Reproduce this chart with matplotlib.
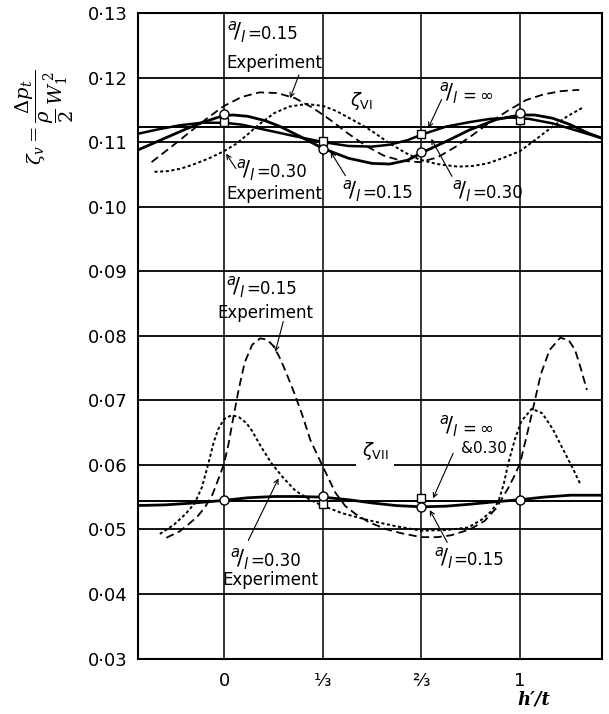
import matplotlib.pyplot as plt

# axis ticks
x_ticks = [0, 1/3, 2/3, 1]
x_ticklabels = ['0', '⅓', '⅔', '1']
y_ticks = [0.03, 0.04, 0.05, 0.06, 0.07, 0.08, 0.09, 0.10, 0.11, 0.12, 0.13]
y_ticklabels = ['0·03', '0·04', '0·05', '0·06', '0·07', '0·08', '0·09',
                '0·10', '0·11', '0·12', '0·13']

# ---- zeta_VI (upper group) ----
vi_mean = 0.1124
# a/l = 0.15 experiment (long dashes)
vi_exp15_x = [-0.245, -0.18, -0.12, -0.06, 0.0, 0.06, 0.12, 0.18, 0.24, 0.30, 0.36, 0.42, 0.48,
              0.54, 0.60, 0.66, 0.72, 0.78, 0.84, 0.90, 0.96, 1.02, 1.08, 1.14, 1.20]
vi_exp15_y = [0.1069, 0.1092, 0.1114, 0.1136, 0.1156, 0.1170, 0.1177, 0.1176, 0.1168, 0.1153,
              0.1134, 0.1113, 0.1094, 0.1079, 0.1071, 0.1069, 0.1076, 0.1092, 0.1111, 0.1131,
              0.1149, 0.1165, 0.1174, 0.1179, 0.1181]
# a/l = 0.30 experiment (dots)
vi_exp30_x = [-0.235, -0.19, -0.145, -0.10, -0.05, 0.0, 0.04, 0.08, 0.12, 0.17, 0.22, 0.28, 0.335,
              0.38, 0.42, 0.46, 0.50, 0.55, 0.61, 0.66, 0.72, 0.79, 0.84, 0.89, 0.94, 1.0, 1.05,
              1.11, 1.16, 1.21]
vi_exp30_y = [0.1054, 0.1055, 0.1059, 0.1066, 0.1075, 0.1086, 0.1097, 0.1112, 0.1128, 0.1145,
              0.1155, 0.1159, 0.1156, 0.1148, 0.1138, 0.1128, 0.1117, 0.1101, 0.1084, 0.1073,
              0.1066, 0.1062, 0.1063, 0.1067, 0.1075, 0.1086, 0.1103, 0.1124, 0.1140, 0.1153]
# a/l = 0.15 theory
vi_th15_x = [-0.29, -0.24, -0.19, -0.13, -0.075, -0.03, 0.0, 0.03, 0.08, 0.14, 0.19, 0.26, 0.335,
             0.42, 0.50, 0.56, 0.62, 0.67, 0.75, 0.83, 0.92, 1.0, 1.05, 1.11, 1.17, 1.23, 1.277]
vi_th15_y = [0.1088, 0.1098, 0.1108, 0.1120, 0.1130, 0.1137, 0.1141, 0.1142, 0.1140, 0.1133,
             0.1124, 0.1108, 0.1090, 0.1075, 0.1067, 0.1066, 0.1072, 0.1084, 0.1101, 0.1119,
             0.1135, 0.1142, 0.1142, 0.1137, 0.1127, 0.1114, 0.1106]
# a/l = 0.30 theory
vi_th30_x = [-0.29, -0.22, -0.15, -0.075, 0.0, 0.06, 0.14, 0.23, 0.335, 0.42, 0.50, 0.56, 0.62,
             0.67, 0.75, 0.83, 0.90, 0.97, 1.03, 1.11, 1.19, 1.277]
vi_th30_y = [0.1113, 0.1120, 0.1126, 0.1130, 0.1130, 0.1127, 0.1119, 0.1110, 0.1100, 0.1094,
             0.1093, 0.1096, 0.1103, 0.1112, 0.1124, 0.1131, 0.1136, 0.1138, 0.1136, 0.1129,
             0.1118, 0.1106]
vi_circle_y = [0.1143, 0.1089, 0.1085, 0.1145]
vi_square_y = [0.1131, 0.1101, 0.1112, 0.1135]

# ---- zeta_VII (lower group) ----
vii_mean = 0.0544
vii_exp15_x = [-0.195, -0.15, -0.12, -0.09, -0.065, -0.04, -0.025, -0.01, 0.0, 0.015, 0.03, 0.05,
               0.07, 0.095, 0.122, 0.145, 0.165, 0.185, 0.207, 0.235, 0.263, 0.292, 0.331, 0.376,
               0.41, 0.444, 0.49, 0.55, 0.60, 0.666, 0.72, 0.768, 0.83, 0.88, 0.92, 0.96, 0.98,
               1.0, 1.02, 1.04, 1.07, 1.10, 1.136, 1.165, 1.186, 1.205, 1.226]
vii_exp15_y = [0.0487, 0.0497, 0.0508, 0.0520, 0.0534, 0.0553, 0.0571, 0.0589, 0.0602, 0.0632,
               0.0670, 0.0718, 0.0759, 0.0786, 0.0796, 0.0794, 0.0785, 0.0769, 0.0746, 0.0714,
               0.0679, 0.0638, 0.0600, 0.0557, 0.0536, 0.0524, 0.0511, 0.0500, 0.0494, 0.0488,
               0.0488, 0.0491, 0.0500, 0.0513, 0.0533, 0.0564, 0.0582, 0.0602, 0.0640, 0.0679,
               0.0740, 0.0778, 0.0797, 0.0793, 0.0778, 0.0750, 0.0716]
vii_exp30_x = [-0.217, -0.17, -0.13, -0.10, -0.075, -0.053, -0.035, -0.02, 0.0, 0.026, 0.05,
               0.075, 0.094, 0.125, 0.161, 0.20, 0.241, 0.29, 0.331, 0.40, 0.49, 0.58, 0.666,
               0.75, 0.825, 0.87, 0.90, 0.926, 0.945, 0.96, 0.983, 1.005, 1.04, 1.075, 1.11,
               1.15, 1.18, 1.203]
vii_exp30_y = [0.0493, 0.0507, 0.0524, 0.0540, 0.0565, 0.0602, 0.0635, 0.0655, 0.0671, 0.0677,
               0.0674, 0.0665, 0.0653, 0.0628, 0.0602, 0.0580, 0.0560, 0.0546, 0.0537, 0.0525,
               0.0514, 0.0505, 0.0498, 0.0499, 0.0503, 0.0515, 0.0527, 0.0542, 0.0570, 0.0602,
               0.0640, 0.0668, 0.0687, 0.0680, 0.0656, 0.0620, 0.0593, 0.0571]
vii_th_x = [-0.292, -0.2, -0.1, 0.0, 0.08, 0.17, 0.25, 0.333, 0.42, 0.5, 0.58, 0.667, 0.75,
            0.83, 0.92, 1.0, 1.08, 1.17, 1.277]
vii_th_y = [0.0537, 0.0538, 0.0541, 0.0545, 0.0549, 0.0551, 0.0551, 0.0550, 0.0546, 0.0541,
            0.0537, 0.0535, 0.0536, 0.0539, 0.0543, 0.0546, 0.0550, 0.0553, 0.0553]
vii_circle_y = [0.0545, 0.0551, 0.0534, 0.0546]
vii_square_x = [1/3, 2/3]
vii_square_y = [0.0540, 0.0548]

fig = plt.figure(figsize=(6.09, 7.14), dpi=100)
ax = fig.add_axes([0.226, 0.0777, 0.7625, 0.9041])
ax.set_xlim(-0.292, 1.277)
ax.set_ylim(0.03, 0.13)

# grid lines (0.06 line is broken behind the zeta_VII label)
for yv in y_ticks:
    if abs(yv - 0.06) < 1e-9:
        ax.hlines(yv, -0.292, 0.445, color='black', lw=1.3, zorder=1)
        ax.hlines(yv, 0.575, 1.277, color='black', lw=1.3, zorder=1)
    else:
        ax.axhline(yv, color='black', lw=1.3, zorder=1)
for xv in x_ticks:
    ax.axvline(xv, color='black', lw=1.1, zorder=1)

ax.axhline(vi_mean, color='black', lw=1.4, zorder=2)
ax.axhline(vii_mean, color='black', lw=1.4, zorder=2)

long_dash = (4.5, 2.5)
short_dot = (1.6, 1.3)

ax.plot(vi_exp15_x, vi_exp15_y, color='black', lw=1.3, dashes=long_dash, zorder=3)
ax.plot(vi_exp30_x, vi_exp30_y, color='black', lw=1.4, dashes=short_dot, zorder=3)
ax.plot(vi_th15_x, vi_th15_y, color='black', lw=2.0, zorder=3)
ax.plot(vi_th30_x, vi_th30_y, color='black', lw=1.8, zorder=3)
ax.plot(x_ticks, vi_circle_y, 'o', ms=6.5, mfc='white', mec='black', mew=1.0, zorder=5)
ax.plot(x_ticks, vi_square_y, 's', ms=6, mfc='white', mec='black', mew=1.0, zorder=4)

ax.plot(vii_exp15_x, vii_exp15_y, color='black', lw=1.3, dashes=long_dash, zorder=3)
ax.plot(vii_exp30_x, vii_exp30_y, color='black', lw=1.4, dashes=short_dot, zorder=3)
ax.plot(vii_th_x, vii_th_y, color='black', lw=2.0, zorder=3)
ax.plot(x_ticks, vii_circle_y, 'o', ms=6.5, mfc='white', mec='black', mew=1.0, zorder=5)
ax.plot(vii_square_x, vii_square_y, 's', ms=6, mfc='white', mec='black', mew=1.0, zorder=4)

ax.set_xticks(x_ticks)
ax.set_xticklabels(x_ticklabels, fontsize=13)
ax.set_yticks(y_ticks)
ax.set_yticklabels(y_ticklabels, fontsize=13)
ax.tick_params(length=0)
ax.tick_params(axis='x', pad=10)
ax.tick_params(axis='y', pad=7)
for s in ax.spines.values():
    s.set_linewidth(1.5)

fs = 12
arrow = dict(arrowstyle='->', lw=0.8, color='black', shrinkA=0, shrinkB=0,
             mutation_scale=8)


def al_label(x, y, rest, rest_size=fs):
    # the a/l ratio glyph is drawn larger than the value that follows it
    ax.annotate(r'${}^{a}\!/{}_{l}$', (x, y), fontsize=15, va='center')
    ax.annotate(rest, (x, y), xytext=(14.5, -1.5), textcoords='offset points',
                fontsize=rest_size, va='center')


# upper labels
al_label(0.01, 0.1271, '=0.15')
ax.text(0.007, 0.1223, 'Experiment', fontsize=fs, va='center')
ax.annotate('', xy=(0.223, 0.1168), xytext=(0.253, 0.1204), arrowprops=arrow)
ax.text(0.426, 0.1164, r'$\zeta_{\mathrm{VI}}$', fontsize=fs + 1, va='center')
al_label(0.726, 0.1176, r'$=\infty$')
ax.annotate('', xy=(0.69, 0.1122), xytext=(0.735, 0.1166), arrowprops=arrow)
al_label(0.04, 0.1057, '=0.30')
ax.text(0.007, 0.1020, 'Experiment', fontsize=fs, va='center')
ax.annotate('', xy=(0.007, 0.1082), xytext=(0.04, 0.1059), arrowprops=arrow)
al_label(0.40, 0.1024, '=0.15')
ax.annotate('', xy=(0.36, 0.1085), xytext=(0.41, 0.1048), arrowprops=arrow)
al_label(0.77, 0.1024, '=0.30')
ax.annotate('', xy=(0.70, 0.1105), xytext=(0.77, 0.1047), arrowprops=arrow)

# lower labels
al_label(0.008, 0.0875, '=0.15')
ax.text(-0.023, 0.0836, 'Experiment', fontsize=fs, va='center')
ax.annotate('', xy=(0.173, 0.0775), xytext=(0.20, 0.0822), arrowprops=arrow)
ax.text(0.51, 0.0622, r'$\zeta_{\mathrm{VII}}$', fontsize=fs + 1, va='center', ha='center')
al_label(0.726, 0.0660, r'$=\infty$')
ax.text(0.80, 0.0626, '&0.30', fontsize=fs - 1, va='center')
ax.annotate('', xy=(0.706, 0.0548), xytext=(0.774, 0.0618), arrowprops=arrow)
al_label(0.021, 0.0454, '=0.30')
ax.text(-0.006, 0.0422, 'Experiment', fontsize=fs, va='center')
ax.annotate('', xy=(0.184, 0.0579), xytext=(0.082, 0.0483), arrowprops=arrow)
al_label(0.708, 0.0456, '=0.15')
ax.annotate('', xy=(0.695, 0.0530), xytext=(0.754, 0.0480), arrowprops=arrow)

# axis titles
fig.text(0.073, 0.835, r'$\zeta_v=\dfrac{\Delta p_t}{\dfrac{\rho}{2}\,W_1^{\,2}}$',
         rotation=90, fontsize=14, ha='center', va='center', math_fontfamily='dejavuserif')
fig.text(0.877, 0.02, "h′/t", fontsize=13, ha='center', va='center',
         family='DejaVu Serif', style='italic', weight='bold')

fig.savefig('out.png', dpi=100)
